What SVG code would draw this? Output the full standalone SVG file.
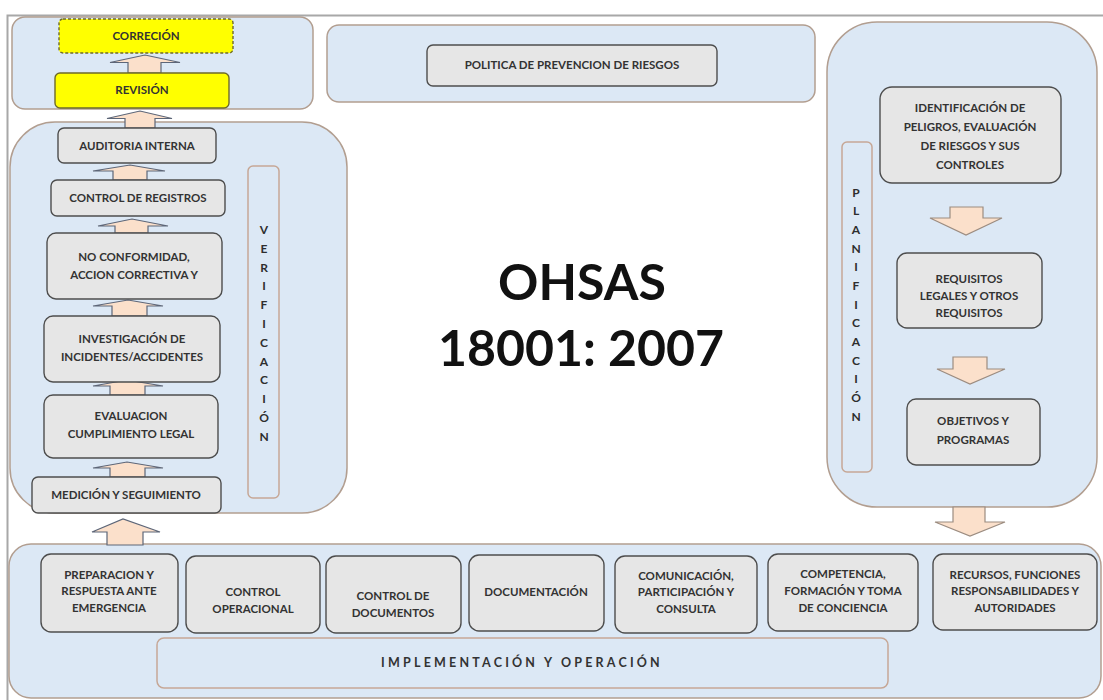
<svg xmlns="http://www.w3.org/2000/svg" width="1103" height="700" viewBox="0 0 1103 700">
<style>
.cont{fill:#dce8f5;stroke:#b29e90;stroke-width:1.5}
.strip{fill:#dce8f5;stroke:#c6a796;stroke-width:1.5}
.box{fill:#e6e6e6;stroke:#4d4d4d;stroke-width:1.4}
.ybox{fill:#ffff00;stroke:#6e6a2a;stroke-width:1.4}
.arr{fill:#fbe0cb;stroke:#5d6678;stroke-width:1.2;stroke-linejoin:miter}
.arrd{fill:#fbe0cb;stroke:#9c8c80;stroke-width:1.2}
text{font-family:Lato,"Open Sans","Liberation Sans",sans-serif;font-weight:bold;fill:#333333;text-anchor:middle}
.t{font-size:11.5px}
.v{font-size:12px;fill:#2e2e2e}
.big{font-size:50px;fill:#111}
.impl{font-size:12.5px;letter-spacing:3.2px}
</style>
<rect x="0" y="0" width="1103" height="700" fill="#ffffff"/>
<path d="M7.5 700 V15.5 H1103" fill="none" stroke="#a8a8a8" stroke-width="2"/>

<g id="containers">
<rect id="grp-revision" class="cont" x="12" y="17" width="301" height="92" rx="13"/>
<rect id="grp-politica" class="cont" x="327" y="25" width="488" height="77" rx="12"/>
<rect id="grp-verificacion" class="cont" x="10" y="122" width="337" height="391" rx="45"/>
<rect id="grp-planificacion" class="cont" x="827" y="22" width="270" height="485" rx="50"/>
<rect id="grp-implementacion" class="cont" x="9" y="544" width="1092" height="154" rx="22"/>
</g>

<g id="connectors">
<polygon class="arr" points="110,62.5 145,55 180,62.5 161,62.5 161,73 128,73 128,62.5"/>
<polygon class="arr" points="107,118.5 140,111 172,118.5 155,118.5 155,128 125,128 125,118.5"/>
<polygon class="arr" points="93,171 130,165 165,171 147,171 147,180 113,180 113,171"/>
<polygon class="arr" points="98,226 132,219 168,226 148,226 148,233 115,233 115,226"/>
<polygon class="arr" points="93,306 128,300 163,306 147,306 147,316 112,316 112,306"/>
<polygon class="arr" points="93,386 127,380 163,386 145,386 145,395 110,395 110,386"/>
<polygon class="arr" points="93,468 127,462 163,468 145,468 145,477 110,477 110,468"/>
<polygon class="arr" points="92,532 123,519 160,532 143,532 143,545 107,545 107,532"/>
<polygon class="arrd" points="950,207 983,207 983,218 1002,218 966,235 930,218 950,218"/>
<polygon class="arrd" points="953,357 987,357 987,369 1005,369 970,384 937,369 953,369"/>
<polygon class="arrd" points="953,507 985,507 985,522 1005,522 970,536 935,522 953,522"/>
</g>

<g id="correcion"><rect class="ybox" x="59" y="19" width="174" height="34" rx="4" stroke-dasharray="3,2"/><text class="t" x="146" y="40">CORRECIÓN</text></g>
<g id="revision"><rect class="ybox" x="55" y="73" width="174" height="35" rx="5"/><text class="t" x="142" y="94">REVISIÓN</text></g>

<g id="politica"><rect class="box" x="427" y="45" width="290" height="41" rx="6"/><text class="t" x="572" y="69">POLITICA DE PREVENCION DE RIESGOS</text></g>

<g id="auditoria"><rect class="box" x="58" y="128" width="158" height="35" rx="6"/><text class="t" x="137" y="150">AUDITORIA INTERNA</text></g>
<g id="registros"><rect class="box" x="51" y="180" width="174" height="36" rx="6"/><text class="t" x="138" y="202">CONTROL DE REGISTROS</text></g>
<g id="noconformidad"><rect class="box" x="47" y="233" width="175" height="66" rx="9"/><text class="t" x="134" y="261">NO CONFORMIDAD,</text><text class="t" x="134" y="279">ACCION CORRECTIVA Y</text></g>
<g id="investigacion"><rect class="box" x="44" y="316" width="176" height="66" rx="9"/><text class="t" x="132" y="343">INVESTIGACIÓN DE</text><text class="t" x="132" y="361">INCIDENTES/ACCIDENTES</text></g>
<g id="evaluacion"><rect class="box" x="44" y="395" width="174" height="63" rx="9"/><text class="t" x="131" y="420">EVALUACION</text><text class="t" x="131" y="438">CUMPLIMIENTO LEGAL</text></g>
<g id="medicion"><rect class="box" x="32" y="477" width="189" height="36" rx="6"/><text class="t" x="126" y="499">MEDICIÓN Y SEGUIMIENTO</text></g>

<g id="verificacion"><rect class="strip" x="248" y="166" width="31" height="332" rx="5"/>
<text class="v" x="264" y="234">V</text><text class="v" x="264" y="253">E</text><text class="v" x="264" y="272">R</text><text class="v" x="264" y="290">I</text><text class="v" x="264" y="309">F</text><text class="v" x="264" y="328">I</text><text class="v" x="264" y="347">C</text><text class="v" x="264" y="366">A</text><text class="v" x="264" y="384">C</text><text class="v" x="264" y="403">I</text><text class="v" x="264" y="422">Ó</text><text class="v" x="264" y="441">N</text></g>

<g id="ohsas"><text class="big" x="582" y="300">OHSAS</text><text class="big" x="581" y="366">18001: 2007</text></g>

<g id="identificacion"><rect class="box" x="880" y="87" width="181" height="96" rx="12"/><text class="t" x="970" y="112">IDENTIFICACIÓN DE</text><text class="t" x="970" y="131">PELIGROS, EVALUACIÓN</text><text class="t" x="970" y="150">DE RIESGOS Y SUS</text><text class="t" x="970" y="169">CONTROLES</text></g>
<g id="requisitos"><rect class="box" x="897" y="253" width="145" height="75" rx="10"/><text class="t" x="969" y="283">REQUISITOS</text><text class="t" x="969" y="300">LEGALES Y OTROS</text><text class="t" x="969" y="317">REQUISITOS</text></g>
<g id="objetivos"><rect class="box" x="907" y="399" width="133" height="66" rx="9"/><text class="t" x="973" y="425">OBJETIVOS Y</text><text class="t" x="973" y="444">PROGRAMAS</text></g>

<g id="planificacion"><rect class="strip" x="842" y="142" width="30" height="330" rx="5"/>
<text class="v" x="856" y="197">P</text><text class="v" x="856" y="215">L</text><text class="v" x="856" y="234">A</text><text class="v" x="856" y="253">N</text><text class="v" x="856" y="271">I</text><text class="v" x="856" y="290">F</text><text class="v" x="856" y="309">I</text><text class="v" x="856" y="327">C</text><text class="v" x="856" y="346">A</text><text class="v" x="856" y="365">C</text><text class="v" x="856" y="383">I</text><text class="v" x="856" y="402">Ó</text><text class="v" x="856" y="421">N</text></g>

<g id="preparacion"><rect class="box" x="41" y="554" width="137" height="78" rx="10"/><text class="t" x="109" y="579">PREPARACION Y</text><text class="t" x="109" y="595">RESPUESTA ANTE</text><text class="t" x="109" y="612">EMERGENCIA</text></g>
<g id="operacional"><rect class="box" x="186" y="556" width="134" height="77" rx="10"/><text class="t" x="253" y="596">CONTROL</text><text class="t" x="253" y="613">OPERACIONAL</text></g>
<g id="documentos"><rect class="box" x="326" y="556" width="135" height="77" rx="10"/><text class="t" x="393" y="600">CONTROL DE</text><text class="t" x="393" y="617">DOCUMENTOS</text></g>
<g id="documentacion"><rect class="box" x="469" y="555" width="135" height="76" rx="10"/><text class="t" x="536" y="596">DOCUMENTACIÓN</text></g>
<g id="comunicacion"><rect class="box" x="615" y="556" width="142" height="77" rx="10"/><text class="t" x="686" y="580">COMUNICACIÓN,</text><text class="t" x="686" y="596">PARTICIPACIÓN Y</text><text class="t" x="686" y="613">CONSULTA</text></g>
<g id="competencia"><rect class="box" x="768" y="554" width="150" height="77" rx="10"/><text class="t" x="843" y="578">COMPETENCIA,</text><text class="t" x="843" y="595">FORMACIÓN Y TOMA</text><text class="t" x="843" y="612">DE CONCIENCIA</text></g>
<g id="recursos"><rect class="box" x="933" y="554" width="164" height="76" rx="10"/><text class="t" x="1015" y="579">RECURSOS, FUNCIONES</text><text class="t" x="1015" y="595">RESPONSABILIDADES Y</text><text class="t" x="1015" y="612">AUTORIDADES</text></g>

<g id="implementacion"><rect class="strip" x="157" y="638" width="731" height="50" rx="7"/><text class="impl" x="522" y="667">IMPLEMENTACIÓN Y OPERACIÓN</text></g>
</svg>
